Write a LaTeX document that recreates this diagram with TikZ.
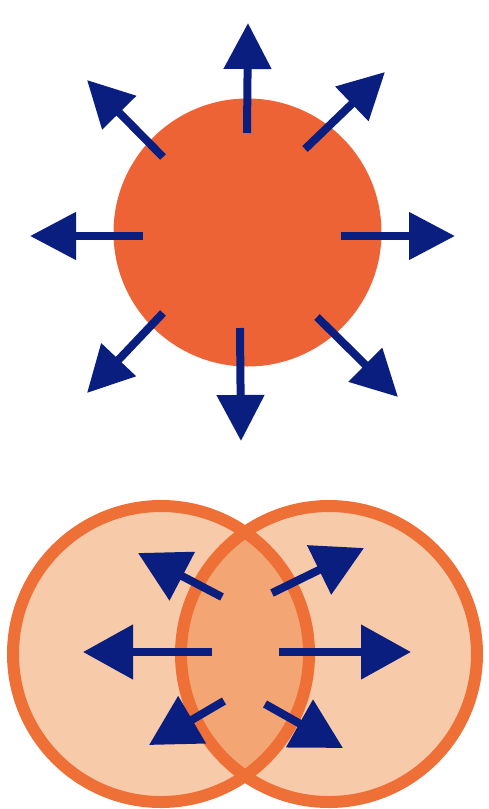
\documentclass[tikz,border=0pt]{standalone}
\usetikzlibrary{arrows.meta}
\definecolor{sun}{HTML}{EE6336}
\definecolor{navy}{HTML}{0A1E80}
\definecolor{peach}{HTML}{F7CBAA}
\definecolor{lens}{HTML}{F3A673}
\definecolor{ring}{HTML}{EE7037}
\tikzset{
  toparrow/.style={draw=navy,line width=8pt,-{Triangle[length=46pt,width=46pt]}},
  botarrow/.style={draw=navy,line width=8pt,-{Triangle[length=50pt,width=53pt]}},
}
\begin{document}
\begin{tikzpicture}[x=1pt,y=-1pt]
\useasboundingbox (0,0) rectangle (489,809);
% top sun
\node[circle,fill=sun,minimum size=268pt,inner sep=0pt] (sun) at (247.5,232.5) {};
\coordinate (s1) at (247,133); \coordinate (t1) at (248,23);
\coordinate (s2) at (341,236); \coordinate (t2) at (455,236);
\coordinate (s3) at (143,236); \coordinate (t3) at (30,236);
\coordinate (s4) at (240,328); \coordinate (t4) at (241,441);
\coordinate (s5) at (163,157); \coordinate (t5) at (87,80);
\coordinate (s6) at (305,149); \coordinate (t6) at (385,72);
\coordinate (s7) at (163,313); \coordinate (t7) at (87,393);
\coordinate (s8) at (317,317); \coordinate (t8) at (398,397);
\foreach \i in {1,...,8} \draw[toparrow] (s\i) -- (t\i);
% bottom overlapping circles
\coordinate (cl) at (161,654);
\coordinate (cr) at (329,654);
\fill[peach] (cl) circle[radius=148];
\fill[peach] (cr) circle[radius=148];
\begin{scope}
  \clip (cl) circle[radius=148];
  \fill[lens] (cr) circle[radius=148];
\end{scope}
\draw[ring,line width=12pt] (cl) circle[radius=148];
\draw[ring,line width=12pt] (cr) circle[radius=148];
\coordinate (b1) at (212,652); \coordinate (e1) at (83,652);
\coordinate (b2) at (279,652); \coordinate (e2) at (411,652);
\coordinate (b3) at (222,597); \coordinate (e3) at (138,553);
\coordinate (b4) at (272,593); \coordinate (e4) at (364,548);
\coordinate (b5) at (224,701); \coordinate (e5) at (149,745);
\coordinate (b6) at (265,704); \coordinate (e6) at (343,748);
\foreach \i in {1,...,6} \draw[botarrow] (b\i) -- (e\i);
\end{tikzpicture}
\end{document}
